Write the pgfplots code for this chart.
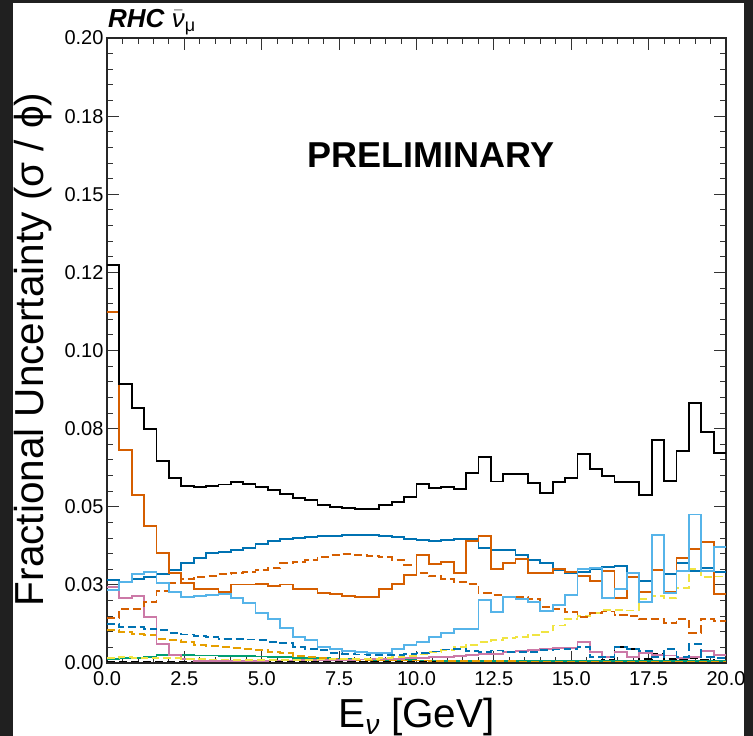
\documentclass[border=0pt]{standalone}
\usepackage{pgfplots}
\pgfplotsset{compat=1.18}
\usepackage{pgfplotstable}
\usepackage{fontspec}
\setmainfont{Liberation Sans}
\definecolor{bgdark}{RGB}{32,32,32}
\definecolor{cverm}{RGB}{213,94,0}
\definecolor{cblue}{RGB}{0,114,178}
\definecolor{csky}{RGB}{86,180,233}
\definecolor{cpink}{RGB}{204,121,167}
\definecolor{cgreen}{RGB}{0,158,115}
\definecolor{cyellow}{RGB}{240,228,66}
\definecolor{corange}{RGB}{230,159,0}

\pgfplotstableread{
x blk orS orD blS blD lb pk gr ye oa bkd
0.0 0.1274 0.1122 0.0143 0.0266 0.0126 0.0234 0.0242 0.0013 0.0015 0.0106 0.0005
0.4 0.0893 0.0682 0.0174 0.0260 0.0116 0.0260 0.0209 0.0017 0.0020 0.0100 0.0005
0.8 0.0815 0.0537 0.0174 0.0268 0.0115 0.0284 0.0214 0.0017 0.0017 0.0092 0.0005
1.2 0.0749 0.0438 0.0195 0.0276 0.0110 0.0290 0.0148 0.0019 0.0015 0.0090 0.0005
1.6 0.0646 0.0351 0.0230 0.0284 0.0105 0.0255 0.0060 0.0026 0.0017 0.0077 0.0005
2.0 0.0591 0.0289 0.0255 0.0298 0.0097 0.0226 0.0026 0.0026 0.0015 0.0074 0.0005
2.4 0.0566 0.0255 0.0269 0.0319 0.0091 0.0210 0.0013 0.0026 0.0012 0.0066 0.0005
2.8 0.0562 0.0236 0.0276 0.0337 0.0087 0.0214 0.0007 0.0024 0.0012 0.0058 0.0005
3.2 0.0566 0.0236 0.0279 0.0351 0.0082 0.0218 0.0006 0.0024 0.0011 0.0054 0.0005
3.6 0.0571 0.0227 0.0285 0.0354 0.0077 0.0221 0.0006 0.0023 0.0011 0.0052 0.0005
4.0 0.0580 0.0251 0.0289 0.0362 0.0077 0.0207 0.0006 0.0022 0.0010 0.0047 0.0005
4.4 0.0573 0.0251 0.0292 0.0369 0.0075 0.0193 0.0007 0.0022 0.0010 0.0044 0.0005
4.8 0.0564 0.0253 0.0298 0.0380 0.0074 0.0159 0.0007 0.0021 0.0010 0.0041 0.0005
5.2 0.0554 0.0246 0.0303 0.0390 0.0068 0.0140 0.0008 0.0019 0.0010 0.0036 0.0005
5.6 0.0541 0.0251 0.0319 0.0396 0.0063 0.0111 0.0008 0.0018 0.0010 0.0031 0.0005
6.0 0.0527 0.0236 0.0324 0.0401 0.0052 0.0084 0.0009 0.0017 0.0010 0.0023 0.0005
6.4 0.0522 0.0236 0.0330 0.0404 0.0046 0.0074 0.0009 0.0016 0.0010 0.0019 0.0005
6.8 0.0506 0.0223 0.0340 0.0406 0.0041 0.0052 0.0010 0.0015 0.0011 0.0015 0.0005
7.2 0.0499 0.0220 0.0346 0.0407 0.0033 0.0045 0.0010 0.0013 0.0012 0.0012 0.0005
7.6 0.0495 0.0214 0.0349 0.0410 0.0030 0.0039 0.0010 0.0012 0.0012 0.0011 0.0005
8.0 0.0493 0.0210 0.0346 0.0410 0.0027 0.0036 0.0011 0.0011 0.0013 0.0010 0.0005
8.4 0.0493 0.0210 0.0343 0.0409 0.0025 0.0033 0.0012 0.0010 0.0014 0.0010 0.0005
8.8 0.0505 0.0236 0.0338 0.0406 0.0026 0.0033 0.0013 0.0010 0.0016 0.0009 0.0005
9.2 0.0514 0.0253 0.0330 0.0402 0.0026 0.0044 0.0014 0.0009 0.0019 0.0009 0.0005
9.6 0.0532 0.0282 0.0314 0.0398 0.0028 0.0058 0.0015 0.0009 0.0022 0.0008 0.0005
10.0 0.0572 0.0346 0.0289 0.0394 0.0033 0.0068 0.0017 0.0008 0.0027 0.0008 0.0005
10.4 0.0559 0.0317 0.0278 0.0390 0.0037 0.0084 0.0020 0.0008 0.0035 0.0007 0.0005
10.8 0.0564 0.0322 0.0269 0.0394 0.0043 0.0095 0.0020 0.0007 0.0042 0.0007 0.0005
11.2 0.0556 0.0287 0.0260 0.0396 0.0046 0.0108 0.0023 0.0007 0.0052 0.0007 0.0005
11.6 0.0608 0.0390 0.0253 0.0396 0.0038 0.0108 0.0026 0.0007 0.0058 0.0006 0.0005
12.0 0.0658 0.0406 0.0223 0.0367 0.0036 0.0202 0.0028 0.0006 0.0066 0.0006 0.0005
12.4 0.0581 0.0301 0.0218 0.0362 0.0040 0.0164 0.0028 0.0006 0.0073 0.0006 0.0005
12.8 0.0604 0.0321 0.0212 0.0362 0.0034 0.0212 0.0034 0.0006 0.0079 0.0006 0.0005
13.2 0.0606 0.0333 0.0212 0.0346 0.0034 0.0204 0.0038 0.0006 0.0084 0.0005 0.0005
13.6 0.0577 0.0289 0.0204 0.0330 0.0036 0.0196 0.0042 0.0006 0.0090 0.0005 0.0005
14.0 0.0543 0.0287 0.0180 0.0319 0.0041 0.0167 0.0044 0.0006 0.0100 0.0005 0.0006
14.4 0.0580 0.0302 0.0173 0.0298 0.0043 0.0186 0.0047 0.0006 0.0120 0.0005 0.0006
14.8 0.0591 0.0292 0.0162 0.0289 0.0045 0.0218 0.0047 0.0006 0.0140 0.0005 0.0006
15.2 0.0669 0.0278 0.0148 0.0292 0.0052 0.0301 0.0066 0.0006 0.0150 0.0005 0.0008
15.6 0.0620 0.0262 0.0160 0.0301 0.0018 0.0303 0.0034 0.0006 0.0160 0.0005 0.0008
16.0 0.0599 0.0295 0.0165 0.0306 0.0018 0.0207 0.0020 0.0006 0.0170 0.0005 0.0010
16.4 0.0578 0.0207 0.0154 0.0310 0.0050 0.0236 0.0036 0.0006 0.0170 0.0005 0.0052
16.8 0.0578 0.0275 0.0151 0.0289 0.0046 0.0288 0.0020 0.0006 0.0168 0.0005 0.0046
17.2 0.0537 0.0226 0.0140 0.0262 0.0038 0.0195 0.0031 0.0006 0.0205 0.0005 0.0012
17.6 0.0714 0.0298 0.0140 0.0296 0.0020 0.0410 0.0026 0.0006 0.0215 0.0005 0.0030
18.0 0.0583 0.0226 0.0127 0.0284 0.0046 0.0223 0.0024 0.0006 0.0207 0.0005 0.0012
18.4 0.0679 0.0336 0.0141 0.0319 0.0020 0.0295 0.0017 0.0006 0.0240 0.0005 0.0010
18.8 0.0831 0.0366 0.0097 0.0294 0.0060 0.0475 0.0020 0.0006 0.0300 0.0005 0.0015
19.2 0.0738 0.0387 0.0142 0.0305 0.0020 0.0295 0.0038 0.0006 0.0274 0.0005 0.0010
19.6 0.0673 0.0222 0.0134 0.0292 0.0017 0.0372 0.0026 0.0006 0.0277 0.0005 0.0008
20.0 0.0673 0.0222 0.0134 0.0292 0.0017 0.0372 0.0026 0.0006 0.0277 0.0005 0.0008
}\histdata

\begin{document}
\begin{tikzpicture}[x=1pt,y=1pt]
\useasboundingbox (0,0) rectangle (753,736);
\fill[bgdark] (0,0) rectangle (753,736);
\fill[white] (13,0) rectangle (744,733);
\begin{axis}[
  at={(107pt,73pt)}, anchor=south west,
  width=619pt, height=625pt, scale only axis,
  xmin=0, xmax=20, ymin=0, ymax=0.2,
  clip mode=individual,
  axis line style={black!85, line width=1.1pt},
  tick align=inside,
  major tick length=12pt, minor tick length=6pt,
  every tick/.style={black!80, line width=0.9pt},
  xtick={0,2.5,5,7.5,10,12.5,15,17.5,20},
  xticklabels={0.0,2.5,5.0,7.5,10.0,12.5,15.0,17.5,20.0},
  ytick={0,0.025,0.05,0.075,0.1,0.125,0.15,0.175,0.2},
  yticklabels={0.00,0.03,0.05,0.08,0.10,0.12,0.15,0.18,0.20},
  minor x tick num=4, minor y tick num=4,
  ticklabel style={font=\fontsize{20}{21}\selectfont},
  xticklabel style={yshift=-5pt},
  xlabel={E\textsubscript{\itshape ν} [GeV]},
  ylabel={Fractional Uncertainty (σ / ϕ)},
  label style={font=\fontsize{40.5}{44}\selectfont},
  xlabel style={at={(axis description cs:0.5,-0.1040)}, anchor=base},
  ylabel style={at={(axis description cs:-0.1195,0.502)}, anchor=center},
  every axis plot/.append style={const plot mark left, line width=1.8pt, mark=none},
]
\addplot[black, dash pattern=on 8pt off 4pt] table[x=x,y=bkd]{\histdata};
\addplot[cgreen] table[x=x,y=gr]{\histdata};
\addplot[corange, dash pattern=on 8pt off 4pt] table[x=x,y=oa]{\histdata};
\addplot[cpink] table[x=x,y=pk]{\histdata};
\addplot[cyellow, dash pattern=on 8pt off 4pt] table[x=x,y=ye]{\histdata};
\addplot[cblue, dash pattern=on 8pt off 4pt] table[x=x,y=blD]{\histdata};
\addplot[cverm, dash pattern=on 8pt off 4pt] table[x=x,y=orD]{\histdata};
\addplot[cblue] table[x=x,y=blS]{\histdata};
\addplot[cverm] table[x=x,y=orS]{\histdata};
\addplot[csky] table[x=x,y=lb]{\histdata};
\addplot[black] table[x=x,y=blk]{\histdata};
\node[font=\fontsize{36}{40}\selectfont\bfseries, anchor=center] at (axis cs:10.47,0.1626) {PRELIMINARY};
\end{axis}
\node[anchor=base west, inner sep=0pt] at (108,708)
  {\fontsize{26}{28}\selectfont\bfseries\itshape RHC\mdseries\upshape\ $\bar{\mbox{\itshape ν}}_{\mbox{\fontsize{18}{18}\selectfont μ}}$};
\end{tikzpicture}
\end{document}
